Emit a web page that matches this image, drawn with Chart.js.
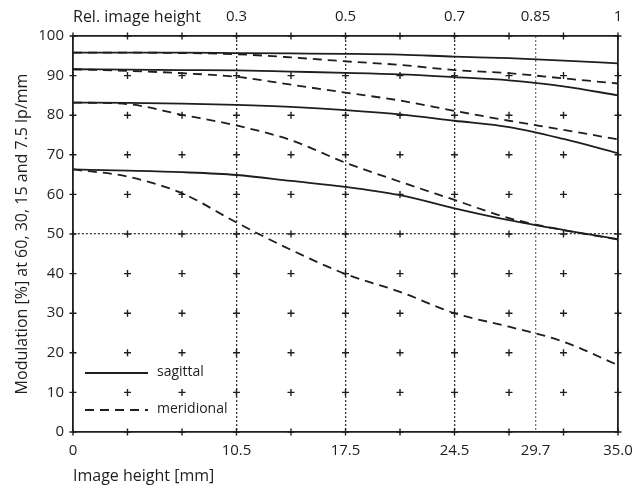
<!DOCTYPE html>
<html>
<head>
<meta charset="utf-8">
<script src="https://cdn.jsdelivr.net/npm/chart.js@4"></script>
<style>
  html, body { margin: 0; padding: 0; background: #fff; }
  #wrap { width: 635px; height: 490px; }
</style>
</head>
<body>
<div id="wrap"><canvas id="mtfChart" width="635" height="490"></canvas></div>
<script>
// image height positions (mm) where the curves were read
const imageHeight = [0, 3.5, 7, 10.5, 14, 17.5, 21, 24.5, 28, 31.5, 35];

// sagittal (solid) and meridional (dashed) at 60, 30, 15, 7.5 lp/mm
const sag60 = [95.8, 95.8, 95.8, 95.7, 95.6, 95.5, 95.3, 94.8, 94.4, 93.8, 93.1];
const mer60 = [95.8, 95.8, 95.7, 95.4, 94.6, 93.6, 92.7, 91.4, 90.6, 89.3, 88.0];
const sag30 = [91.6, 91.5, 91.4, 91.3, 91.0, 90.7, 90.3, 89.6, 88.8, 87.3, 85.0];
const mer30 = [91.6, 91.2, 90.6, 89.7, 87.7, 85.7, 83.7, 81.1, 78.6, 76.3, 73.9];
const sag15 = [83.2, 83.1, 82.9, 82.6, 82.1, 81.3, 80.2, 78.6, 77.0, 74.0, 70.4];
const mer15 = [83.2, 82.8, 80.1, 77.4, 73.7, 68.0, 63.2, 58.6, 54.0, 51.0, 48.6];
const sag75 = [66.3, 66.0, 65.6, 64.9, 63.4, 61.9, 59.8, 56.5, 53.5, 51.0, 48.7];
const mer75 = [66.3, 64.5, 60.3, 52.9, 46.0, 39.9, 35.4, 30.0, 26.6, 22.8, 16.9];

// axis ticks
const bottomTicks = [0, 10.5, 17.5, 24.5, 29.7, 35];
const bottomLabels = ['0', '10.5', '17.5', '24.5', '29.7', '35.0'];
const topTicks = [10.5, 17.5, 24.5, 29.7, 35];
const topLabels = ['0.3', '0.5', '0.7', '0.85', '1'];
const dottedX = [10.5, 17.5, 24.5, 29.7];

// small "+" marks of the background grid
const gridX = [0, 3.5, 7, 10.5, 14, 17.5, 21, 24.5, 28, 31.5, 35];
const gridY = [0, 10, 20, 30, 40, 50, 60, 70, 80, 90, 100];

const ink = '#1e1e1e';
const font = "'Open Sans', 'DejaVu Sans', sans-serif";

function pts(values) {
    return values.map((v, i) => ({ x: imageHeight[i], y: v }));
}

const crosses = [];
gridX.forEach(x => gridY.forEach(y => crosses.push({ x: x, y: y })));

function curve(values, dashed) {
    return {
        type: 'line',
        data: pts(values),
        borderColor: ink,
        borderWidth: 1.8,
        borderDash: dashed ? [9, 6] : [],
        pointRadius: 0,
        fill: false,
        cubicInterpolationMode: 'monotone'
    };
}

// legend + top-left caption drawn onto the canvas
const extras = {
    id: 'extras',
    afterDraw(chart) {
        const { ctx, chartArea } = chart;
        ctx.save();
        ctx.fillStyle = ink;
        ctx.font = '16px ' + font;
        ctx.textBaseline = 'middle';
        ctx.textAlign = 'left';
        ctx.fillText('Rel. image height', chartArea.left, 17);

        const lx = chartArea.left + 12;
        const rows = [
            { label: 'sagittal', y: chartArea.bottom - 59, dash: [] },
            { label: 'meridional', y: chartArea.bottom - 22, dash: [9, 6] }
        ];
        rows.forEach(r => {
            ctx.strokeStyle = ink;
            ctx.lineWidth = 1.8;
            ctx.setLineDash(r.dash);
            ctx.beginPath();
            ctx.moveTo(lx, r.y);
            ctx.lineTo(lx + 63, r.y);
            ctx.stroke();
            ctx.setLineDash([]);
            ctx.font = '14px ' + font;
            ctx.fillText(r.label, lx + 72, r.y - 1);
        });
        ctx.restore();
    }
};

new Chart(document.getElementById('mtfChart'), {
    type: 'scatter',
    data: {
        datasets: [
            curve(sag60, false), curve(mer60, true),
            curve(sag30, false), curve(mer30, true),
            curve(sag15, false), curve(mer15, true),
            curve(sag75, false), curve(mer75, true),
            {
                type: 'scatter',
                data: crosses,
                pointStyle: 'cross',
                pointRadius: 3.5,
                borderColor: ink,
                borderWidth: 1.4,
                clip: false
            }
        ]
    },
    options: {
        responsive: false,
        animation: false,
        layout: { padding: 0 },
        plugins: { legend: { display: false }, tooltip: { enabled: false } },
        scales: {
            x: {
                type: 'linear', position: 'bottom', min: 0, max: 35,
                afterBuildTicks: s => { s.ticks = bottomTicks.map(v => ({ value: v })); },
                afterFit: s => { s.height = 58; s.paddingLeft = 0; s.paddingRight = 0; },
                ticks: {
                    autoSkip: false, maxRotation: 0, padding: 10, color: ink,
                    font: { family: font, size: 15 },
                    callback: (v, i) => bottomLabels[i]
                },
                grid: {
                    drawTicks: false, lineWidth: 1.3,
                    color: c => (c.tick && dottedX.includes(c.tick.value)) ? (c.tick.value === 29.7 ? '#777' : '#333') : 'rgba(0,0,0,0)'
                },
                border: { display: true, color: ink, width: 1.8, dash: [2, 2] },
                title: {
                    display: true, text: 'Image height [mm]', align: 'start', color: ink,
                    font: { family: font, size: 16 }, padding: { top: 2 }
                }
            },
            x2: {
                type: 'linear', position: 'top', min: 0, max: 35,
                afterBuildTicks: s => { s.ticks = topTicks.map(v => ({ value: v })); },
                afterFit: s => { s.height = 36; s.paddingLeft = 0; s.paddingRight = 0; },
                ticks: {
                    autoSkip: false, maxRotation: 0, padding: 10, color: ink,
                    font: { family: font, size: 15 },
                    callback: (v, i) => topLabels[i]
                },
                grid: { display: false, drawTicks: false },
                border: { display: true, color: ink, width: 1.8 }
            },
            y: {
                type: 'linear', position: 'left', min: 0, max: 100,
                afterFit: s => { s.width = 73; s.paddingTop = 0; s.paddingBottom = 0; },
                ticks: {
                    stepSize: 10, padding: 9, color: ink,
                    font: { family: font, size: 15 }
                },
                grid: {
                    drawTicks: false, lineWidth: 1.3,
                    color: c => (c.tick && c.tick.value === 50) ? '#333' : 'rgba(0,0,0,0)'
                },
                border: { display: true, color: ink, width: 1.8, dash: [2, 2] },
                title: {
                    display: true, text: 'Modulation [%] at 60, 30, 15 and 7.5 lp/mm', color: ink,
                    font: { family: font, size: 16 }, padding: { top: 13, bottom: 0 }
                }
            },
            yr: {
                type: 'linear', position: 'right', min: 0, max: 100,
                afterFit: s => { s.width = 17; s.paddingTop = 0; s.paddingBottom = 0; },
                ticks: { display: false },
                grid: { display: false, drawTicks: false },
                border: { display: true, color: ink, width: 1.8 }
            }
        }
    },
    plugins: [extras]
});
</script>
</body>
</html>
